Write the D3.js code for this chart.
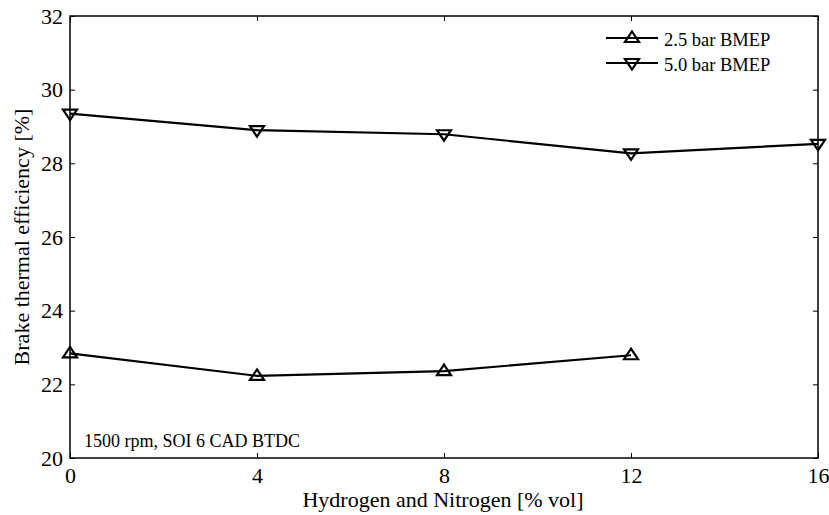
<!DOCTYPE html>
<html><head><meta charset="utf-8">
<script src="https://cdn.jsdelivr.net/npm/d3@7"></script>
<style>body{margin:0;background:#fff}svg{display:block}text{font-family:"Liberation Serif","Times New Roman",serif;fill:#000}</style>
</head><body>
<svg id="c" width="829" height="515" font-family="Liberation Serif, Times New Roman, serif"></svg>
<script>
const xValues = [0, 4, 8, 12, 16];
const series25Label = "2.5 bar BMEP";
const series25 = [22.84, 22.23, 22.36, 22.79];
const series50Label = "5.0 bar BMEP";
const series50 = [29.35, 28.90, 28.79, 28.27, 28.53];
const xTicks = [0, 4, 8, 12, 16];
const yTicks = [20, 22, 24, 26, 28, 30, 32];
const xLabel = "Hydrogen and Nitrogen [% vol]";
const yLabel = "Brake thermal efficiency [%]";
const note = "1500 rpm, SOI 6 CAD BTDC";

const FF = "Liberation Serif, Times New Roman, serif";
const svg = d3.select("#c");
const L = 70, R = 818, T = 16, B = 458;
const x = d3.scaleLinear().domain([0, 16]).range([L, R]);
const y = d3.scaleLinear().domain([20, 32]).range([B, T]);

const tl = 5;
svg.append("g").attr("transform", `translate(0,${B})`)
  .call(d3.axisBottom(x).tickValues(xTicks).tickSizeInner(-tl).tickSizeOuter(0).tickPadding(9))
  .call(g => { g.select(".domain").remove(); g.attr("font-family", FF).attr("font-size", 22); });
svg.append("g").attr("transform", `translate(0,${T})`)
  .call(d3.axisTop(x).tickValues(xTicks).tickSizeInner(-tl).tickSizeOuter(0).tickFormat(""))
  .call(g => g.select(".domain").remove());
svg.append("g").attr("transform", `translate(${L},0)`)
  .call(d3.axisLeft(y).tickValues(yTicks).tickSizeInner(-tl).tickSizeOuter(0).tickPadding(7))
  .call(g => { g.select(".domain").remove(); g.attr("font-family", FF).attr("font-size", 22); });
svg.append("g").attr("transform", `translate(${R},0)`)
  .call(d3.axisRight(y).tickValues(yTicks).tickSizeInner(-tl).tickSizeOuter(0).tickFormat(""))
  .call(g => g.select(".domain").remove());
svg.selectAll(".tick line").attr("stroke", "#000").attr("stroke-width", 1);

svg.append("rect").attr("x", L).attr("y", T).attr("width", R - L).attr("height", B - T)
  .attr("fill", "none").attr("stroke", "#000").attr("stroke-width", 1.5);

const line = d3.line().x(d => x(d[0])).y(d => y(d[1]));
const tri = "M0,-6.5L7,4L-7,4Z";

function drawSeries(vals, flip) {
  const pts = vals.map((v, i) => [xValues[i], v]);
  svg.append("path").datum(pts).attr("d", line).attr("fill", "none")
    .attr("stroke", "#000").attr("stroke-width", 2.2);
  svg.selectAll(null).data(pts).enter().append("path")
    .attr("d", tri)
    .attr("transform", d => `translate(${x(d[0])},${y(d[1])})` + (flip ? " scale(1,-1)" : ""))
    .attr("fill", "none").attr("stroke", "#000").attr("stroke-width", 2.2);
}
drawSeries(series25, false);
drawSeries(series50, true);

const legend = [[series25Label, false, 38], [series50Label, true, 63]];
legend.forEach(([lab, flip, ly]) => {
  svg.append("line").attr("x1", 606).attr("x2", 658).attr("y1", ly).attr("y2", ly)
    .attr("stroke", "#000").attr("stroke-width", 2.2);
  svg.append("path").attr("d", tri).attr("transform", `translate(632,${ly})` + (flip ? " scale(1,-1)" : ""))
    .attr("fill", "none").attr("stroke", "#000").attr("stroke-width", 2.2);
  svg.append("text").attr("x", 664).attr("y", ly + 7.5).attr("font-size", 18.5).text(lab);
});

svg.append("text").attr("x", 84).attr("y", 447).attr("font-size", 18).text(note);
svg.append("text").attr("x", (L + R) / 2 - 1).attr("y", 507).attr("text-anchor", "middle").attr("font-size", 22).text(xLabel);
svg.append("text").attr("transform", `translate(29,${(T + B) / 2}) rotate(-90)`).attr("text-anchor", "middle")
  .attr("font-size", 22).text(yLabel);
</script>
</body></html>
